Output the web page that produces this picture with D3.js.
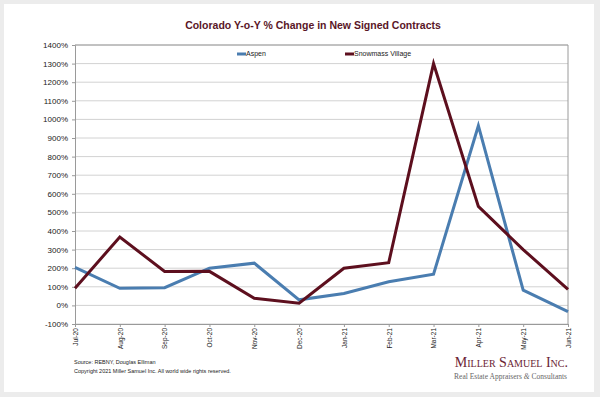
<!DOCTYPE html>
<html>
<head>
<meta charset="utf-8">
<script src="https://cdn.jsdelivr.net/npm/d3@7"></script>
<style>
  body { margin: 0; background: #ececec; }
  svg { display: block; }
</style>
</head>
<body>
<svg id="chart" width="600" height="397"></svg>
<script>
// chart values
var months = ["Jul-20", "Aug-20", "Sep-20", "Oct-20", "Nov-20", "Dec-20",
              "Jan-21", "Feb-21", "Mar-21", "Apr-21", "May-21", "Jun-21"];
var aspen = [204, 92, 95, 200, 227, 30, 64, 127, 168, 966, 82, -33];
var snowmass = [92, 368, 182, 183, 38, 12, 200, 230, 1300, 532, 300, 86];
var yTicks = [-100, 0, 100, 200, 300, 400, 500, 600, 700, 800, 900, 1000, 1100, 1200, 1300, 1400];

var svg = d3.select("#chart");

// white card
svg.append("rect")
  .attr("x", 4).attr("y", 4)
  .attr("width", 590).attr("height", 388)
  .attr("fill", "#fff");

var plotL = 75, plotR = 568, plotT = 45, plotB = 324;

var x = d3.scalePoint().domain(months).range([plotL, plotR]);
var y = d3.scaleLinear().domain([-100, 1400]).range([plotB, plotT]);

// gridlines
svg.append("g")
  .selectAll("line")
  .data(yTicks)
  .enter()
  .append("line")
  .attr("x1", plotL).attr("x2", plotR)
  .attr("y1", function(d) { return y(d); })
  .attr("y2", function(d) { return y(d); })
  .attr("stroke", "#d2d2d2")
  .attr("stroke-width", 1);

// frame: top and right
svg.append("path")
  .attr("d", "M" + plotL + "," + plotT + "H" + plotR + "V" + plotB)
  .attr("fill", "none")
  .attr("stroke", "#9a9a9a");

// y axis
var yAxis = svg.append("g")
  .attr("transform", "translate(" + plotL + ",0)")
  .call(d3.axisLeft(y).tickValues(yTicks).tickSize(3).tickPadding(4)
    .tickFormat(function(d) { return d + "%"; }));
yAxis.select(".domain").attr("stroke", "#9a9a9a");
yAxis.selectAll(".tick line").attr("stroke", "#9a9a9a");
yAxis.selectAll("text")
  .attr("font-family", "Liberation Sans, Arial, sans-serif")
  .attr("font-size", 8)
  .attr("fill", "#222");

// x axis
var xAxis = svg.append("g")
  .attr("transform", "translate(0," + plotB + ")")
  .call(d3.axisBottom(x).tickSize(3).tickSizeOuter(0));
xAxis.select(".domain").attr("stroke", "#9a9a9a");
xAxis.selectAll(".tick line").attr("stroke", "#9a9a9a");
xAxis.selectAll("text")
  .attr("font-family", "Liberation Sans, Arial, sans-serif")
  .attr("font-size", 6.5)
  .attr("fill", "#222")
  .attr("text-anchor", "end")
  .attr("transform", "rotate(-90)")
  .attr("x", -4)
  .attr("y", 0)
  .attr("dy", "0.35em");

// lines
var line = d3.line()
  .x(function(d, i) { return x(months[i]); })
  .y(function(d) { return y(d); });

svg.append("path")
  .datum(aspen)
  .attr("d", line)
  .attr("fill", "none")
  .attr("stroke", "#4a7db0")
  .attr("stroke-width", 3);

svg.append("path")
  .datum(snowmass)
  .attr("d", line)
  .attr("fill", "none")
  .attr("stroke", "#5d0f1e")
  .attr("stroke-width", 3);

// legend
var legend = [
  {name: "Aspen", color: "#4a7db0", x: 237},
  {name: "Snowmass Village", color: "#5d0f1e", x: 345}
];
var lg = svg.append("g").selectAll("g").data(legend).enter().append("g")
  .attr("transform", function(d) { return "translate(" + d.x + ",54)"; });
lg.append("line")
  .attr("x1", 0).attr("x2", 9)
  .attr("stroke", function(d) { return d.color; })
  .attr("stroke-width", 3);
lg.append("text")
  .attr("x", 9).attr("dy", "0.35em")
  .attr("font-family", "Liberation Sans, Arial, sans-serif")
  .attr("font-size", 7)
  .attr("fill", "#222")
  .text(function(d) { return d.name; });

// title
svg.append("text")
  .attr("x", 313).attr("y", 29)
  .attr("text-anchor", "middle")
  .attr("font-family", "Liberation Sans, Arial, sans-serif")
  .attr("font-weight", "bold")
  .attr("font-size", 10.5)
  .attr("fill", "#5a1627")
  .text("Colorado Y-o-Y % Change in New Signed Contracts");

// source notes
svg.append("text")
  .attr("x", 74).attr("y", 364)
  .attr("font-family", "Liberation Sans, Arial, sans-serif")
  .attr("font-size", 5.5)
  .attr("fill", "#222")
  .text("Source: REBNY, Douglas Elliman");
svg.append("text")
  .attr("x", 74).attr("y", 373)
  .attr("font-family", "Liberation Sans, Arial, sans-serif")
  .attr("font-size", 5.5)
  .attr("fill", "#222")
  .text("Copyright 2021 Miller Samuel Inc.  All world wide rights reserved.");

// logo
svg.append("text")
  .attr("x", 568).attr("y", 367)
  .attr("text-anchor", "end")
  .attr("font-family", "Liberation Serif, Times New Roman, serif")
  .attr("font-size", 14)
  .attr("font-variant", "small-caps")
  .attr("fill", "#6b2434")
  .text("Miller Samuel Inc.");
var sub = svg.append("text")
  .attr("x", 567).attr("y", 379)
  .attr("text-anchor", "end")
  .attr("font-family", "Liberation Serif, Times New Roman, serif")
  .attr("font-size", 7.5)
  .attr("fill", "#666");
sub.append("tspan").text("Real Estate Appraisers ");
sub.append("tspan").attr("font-style", "italic").text("&");
sub.append("tspan").text(" Consultants");
</script>
</body>
</html>
